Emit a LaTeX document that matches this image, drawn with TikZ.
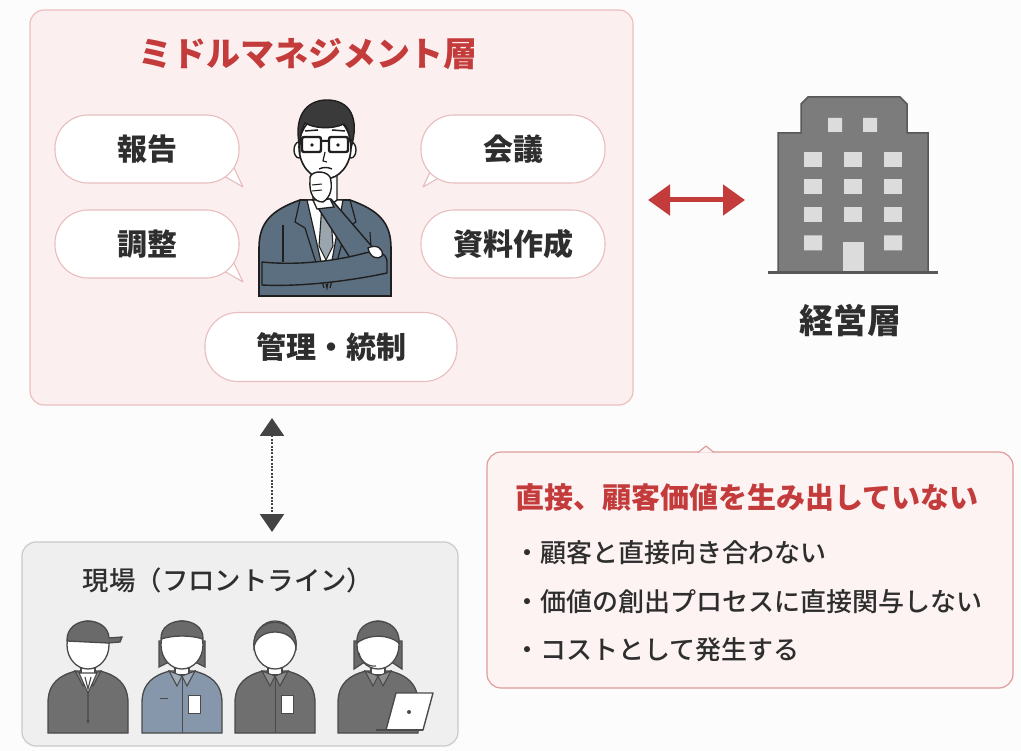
\documentclass[tikz,border=0pt]{standalone}
\usepackage{fontspec}
\setmainfont{Noto Sans CJK JP}
\newfontfamily\mediumfont{Noto Sans CJK JP Medium}
\usetikzlibrary{arrows.meta}

\definecolor{bgc}{HTML}{FCFCFC}
\definecolor{mgmtfill}{HTML}{FCEFEF}
\definecolor{mgmtline}{HTML}{EDBFBF}
\definecolor{bubline}{HTML}{E8BDBD}
\definecolor{accent}{HTML}{C43B3B}
\definecolor{txt}{HTML}{2E2E2E}
\definecolor{ink}{HTML}{1F1F1F}
\definecolor{suit}{HTML}{5C6F80}
\definecolor{tiec}{HTML}{9AA5AE}
\definecolor{hairc}{HTML}{3A3A3A}
\definecolor{bldg}{HTML}{7C7C7C}
\definecolor{bldgline}{HTML}{585858}
\definecolor{winc}{HTML}{DCDCDC}
\definecolor{critfill}{HTML}{FDF3F3}
\definecolor{critline}{HTML}{E09C9C}
\definecolor{frontfill}{HTML}{EFEFEF}
\definecolor{frontline}{HTML}{C9C9C9}
\definecolor{wink}{HTML}{4A4A4A}
\definecolor{wbody}{HTML}{6F6F6F}
\definecolor{wblue}{HTML}{8797AB}
\definecolor{whair}{HTML}{6A6A6A}
\definecolor{arrowgray}{HTML}{444444}

\newcommand\setfs[1]{\fontsize{#1pt}{#1pt}\selectfont}

% one frontline worker, bottom centre at (#1,733); #2 body colour
\newcommand\workerbody[2]{%
  \begin{scope}[shift={(#1,733)}]
    \filldraw[fill=#2, draw=wink, line width=1.3pt]
      (-40,0) -- (-40,-30) .. controls (-40,-50) and (-28,-58) .. (-12,-62)
      -- (12,-62) .. controls (28,-58) and (40,-50) .. (40,-30) -- (40,0) -- cycle;
    \filldraw[fill=white, draw=wink, line width=1.1pt] (-7,-72) rectangle (7,-58);
    \filldraw[fill=#2!80!white, draw=wink, line width=1.1pt] (-13,-62) -- (0,-57) -- (-5,-47) -- cycle;
    \filldraw[fill=#2!80!white, draw=wink, line width=1.1pt] (13,-62) -- (0,-57) -- (5,-47) -- cycle;
  \end{scope}}
\newcommand\workerhead[1]{%
  \begin{scope}[shift={(#1,733)}]
    \filldraw[fill=white, draw=wink, line width=1.3pt] (0,-88) ellipse [x radius=21, y radius=24];
  \end{scope}}

\begin{document}
\begin{tikzpicture}[x=1pt, y=-1pt,
  panel/.style={rectangle, rounded corners=14pt, line width=1.2pt},
  bubble/.style={rectangle, rounded corners=33pt, draw=bubline, fill=white,
    line width=1.1pt, minimum width=184pt, minimum height=68pt,
    text=txt, font=\setfs{30}\bfseries},
  bubtail/.style={fill=white, draw=bubline, line width=1.1pt, line join=round},
  redarrow/.style={draw=accent, line width=5pt,
    {Triangle[length=22pt, width=30pt]}-{Triangle[length=22pt, width=30pt]}},
  dotarrow/.style={draw=arrowgray, line width=2.6pt, dash pattern=on 2pt off 1.4pt,
    {Triangle[length=18pt, width=24pt]}-{Triangle[length=18pt, width=24pt]}},
  bullet/.style={anchor=west, text=txt, font=\setfs{26}\mediumfont}]

\useasboundingbox (0,0) rectangle (1021,751);
\fill[bgc] (0,0) rectangle (1021,751);

% ---------- middle management panel ----------
\node[panel, draw=mgmtline, fill=mgmtfill, minimum width=603pt, minimum height=395pt]
  (mgmt) at (331.5,207.5) {};
\node[text=accent, font=\setfs{34}\bfseries] (mgmttitle) at (308,54) {ミドルマネジメント層};

% bubble tails
\path[bubtail] (224,176) -- (243,187) -- (234,168);
\path[bubtail] (442,176) -- (423,187) -- (432,168);
\path[bubtail] (224,271) -- (243,282) -- (234,263);

\node[bubble] (rep) at (147,149) {報告};
\node[bubble] (adj) at (147,244) {調整};
\node[bubble] (mtg) at (513,149) {会議};
\node[bubble] (doc) at (513,244) {資料作成};
\node[bubble, minimum width=252pt, minimum height=69pt] (ctl) at (331,347) {管理・統制};

% ---------- manager figure ----------
\filldraw[fill=suit, draw=ink, line width=1.6pt]
  (259,296) -- (259,248) .. controls (259,222) and (272,210) .. (300,200)
  -- (350,200) .. controls (378,210) and (391,222) .. (391,248) -- (391,296) -- cycle;
\filldraw[fill=white, draw=ink, line width=1.2pt] (307,200) -- (343,200) -- (327,288) -- cycle;
\filldraw[fill=tiec, draw=ink, line width=1.1pt]
  (322,204) -- (330,204) -- (333,246) -- (326,260) -- (319,246) -- cycle;
\draw[ink, line width=1.2pt, line join=round] (300,200) -- (295,222) -- (305,228) -- (324,288);
\draw[ink, line width=1.2pt, line join=round] (350,200) -- (356,222) -- (346,228) -- (330,288);
\draw[ink, line width=1.1pt] (283,225) -- (283,262);
\draw[ink, line width=1.1pt] (370,232) -- (372,262);
% neck and head
\filldraw[fill=white, draw=ink, line width=1.4pt]
  (313,168) -- (313,200) .. controls (320,207) and (330,207) .. (337,200) -- (337,168) -- cycle;
\filldraw[fill=white, draw=ink, line width=1.4pt] (299,150) ellipse [x radius=5, y radius=8];
\filldraw[fill=white, draw=ink, line width=1.4pt] (351,150) ellipse [x radius=5, y radius=8];
\filldraw[fill=white, draw=ink, line width=1.6pt] (325,147) ellipse [x radius=26, y radius=32];
\filldraw[fill=hairc, draw=ink, line width=1.4pt]
  (300,148) .. controls (293,118) and (305,100) .. (327,100)
  .. controls (350,100) and (360,118) .. (351,148)
  .. controls (350,136) and (348,128) .. (344,124)
  .. controls (331,130) and (313,128) .. (305,123)
  .. controls (301,130) and (300,138) .. (300,148) -- cycle;
\draw[ink, line width=2.4pt, rounded corners=2pt] (302,137) rectangle (321,152);
\draw[ink, line width=2.4pt, rounded corners=2pt] (329,137) rectangle (348,152);
\draw[ink, line width=2pt] (321,141) -- (329,141) (302,141) -- (298,140) (348,141) -- (352,140);
\fill[ink] (312,145) circle (1.8) (338,145) circle (1.8);
\draw[ink, line width=1.5pt] (305,131) -- (318,130) (332,130) -- (345,131);
\draw[ink, line width=1.2pt, line join=round] (325,152) -- (323,161) -- (327,162);
\draw[ink, line width=1.4pt] (319,169) .. controls (323,167) and (328,167) .. (332,169);
% arms
\filldraw[fill=suit, draw=ink, line width=1.4pt, line join=round]
  (313,200) -- (331,199) -- (374,249) -- (354,264) -- cycle;
\filldraw[fill=suit, draw=ink, line width=1.4pt, line join=round]
  (262,262) .. controls (300,266) and (340,260) .. (365,253)
  .. controls (378,250) and (386,253) .. (387,261)
  -- (387,273) .. controls (350,281) and (300,287) .. (262,285) -- cycle;
\filldraw[fill=white, draw=ink, line width=1.3pt]
  (368,248) .. controls (376,244) and (384,248) .. (382,256) .. controls (378,260) and (370,258) .. (368,248) -- cycle;
\filldraw[fill=white, draw=ink, line width=1.3pt]
  (313,200) -- (330,199) -- (334,207) -- (317,209) -- cycle;
\filldraw[fill=white, draw=ink, line width=1.4pt]
  (310,180) .. controls (308,171) and (325,169) .. (330,177)
  .. controls (333,187) and (331,197) .. (323,202)
  .. controls (314,202) and (309,194) .. (310,180) -- cycle;
\draw[ink, line width=1pt] (312,185) -- (322,184) (312,191) -- (322,190);

% ---------- executive layer ----------
\filldraw[fill=bldg, draw=bldgline, line width=1.5pt]
  (778,272) -- (778,133) -- (801,133) -- (801,104) -- (808,97) -- (900,97)
  -- (907,104) -- (907,133) -- (928,133) -- (928,272) -- cycle;
\draw[bldgline, line width=3pt] (768,273) -- (938,273);
\fill[winc] (828,118) rectangle (842,132) (863,118) rectangle (877,132);
\foreach \cx in {813,853,893}
  \foreach \cy in {160,187,215}
    \fill[winc] (\cx-9,\cy-7.5) rectangle (\cx+9,\cy+7.5);
\fill[winc] (804,235.5) rectangle (822,250.5) (884,235.5) rectangle (902,250.5);
\fill[winc] (843,242) rectangle (864,271);
\node[text=txt, font=\setfs{34}\bfseries] (exec) at (850,321) {経営層};

\coordinate (redL) at (648,200);
\coordinate (redR) at (745,200);
\draw[redarrow] (redL) -- (redR);

% ---------- frontline ----------
\node[panel, draw=frontline, fill=frontfill, minimum width=436pt, minimum height=204pt]
  (front) at (240,644) {};
\node[text=txt, font=\setfs{26.4}\mediumfont] (fronttitle) at (228,580) {現場（フロントライン）};

\coordinate (dotT) at (272,418);
\coordinate (dotB) at (272,532);
\draw[dotarrow] (dotT) -- (dotB);

% worker 1: cap and suit
\workerbody{88}{wbody}
\begin{scope}[shift={(88,733)}]
  \filldraw[fill=white, draw=wink, line width=1.1pt] (-9,-60) -- (9,-60) -- (0,-40) -- cycle;
  \draw[wink, line width=1.1pt] (0,-40) -- (0,-10) (-3,-56) -- (0,-44) -- (3,-56);
  \fill[wink] (0,-12) circle (1.5);
\end{scope}
\workerhead{88}
\begin{scope}[shift={(88,733)}]
  \filldraw[fill=whair, draw=wink, line width=1.3pt]
    (-21,-92) .. controls (-22,-118) and (20,-118) .. (21,-95) -- (34,-96) -- (32,-91) -- (20,-90) -- cycle;
\end{scope}

% worker 2: cap, blue uniform, badge
\begin{scope}[shift={(182,733)}]
  \filldraw[fill=whair, draw=wink, line width=1.3pt]
    (-23,-66) -- (-23,-92) -- (23,-92) -- (23,-66) -- (15,-70) -- (-15,-70) -- cycle;
\end{scope}
\workerbody{182}{wblue}
\workerhead{182}
\begin{scope}[shift={(182,733)}]
  \filldraw[fill=whair, draw=wink, line width=1.3pt]
    (-21,-94) .. controls (-22,-118) and (22,-118) .. (21,-94) .. controls (8,-98) and (-8,-98) .. (-21,-94) -- cycle;
  \filldraw[fill=white, draw=wink, line width=1pt] (6,-38) rectangle (18,-20);
  \draw[wink, line width=1pt] (0,-57) -- (0,0) (-22,-35) -- (-14,-35);
\end{scope}

% worker 3: short hair, badge
\workerbody{275}{wbody}
\workerhead{275}
\begin{scope}[shift={(275,733)}]
  \filldraw[fill=whair, draw=wink, line width=1.3pt]
    (-21,-86) .. controls (-24,-119) and (24,-119) .. (21,-86)
    .. controls (19,-96) and (10,-101) .. (0,-101) .. controls (-10,-101) and (-19,-96) .. (-21,-86) -- cycle;
  \filldraw[fill=white, draw=wink, line width=1pt] (6,-38) rectangle (18,-20);
  \draw[wink, line width=1pt] (0,-57) -- (0,0);
\end{scope}

% worker 4: headset and laptop
\begin{scope}[shift={(378,733)}]
  \filldraw[fill=whair, draw=wink, line width=1.3pt]
    (-24,-64) -- (-24,-92) -- (24,-92) -- (24,-64) -- (15,-70) -- (-15,-70) -- cycle;
\end{scope}
\workerbody{378}{wbody}
\workerhead{378}
\begin{scope}[shift={(378,733)}]
  \filldraw[fill=whair, draw=wink, line width=1.3pt]
    (-21,-90) .. controls (-23,-119) and (23,-119) .. (21,-90)
    .. controls (12,-98) and (-8,-100) .. (-21,-90) -- cycle;
  \draw[wink, line width=1.2pt] (-19,-80) .. controls (-17,-70) and (-8,-66) .. (-2,-67);
  \filldraw[fill=white, draw=wink, line width=1.4pt, line join=round]
    (8,-3) -- (18,-40) -- (55,-40) -- (45,-3) -- cycle;
  \draw[wink, line width=1.6pt] (-2,-3) -- (45,-3);
  \fill[wink] (31,-21) circle (2);
\end{scope}

% ---------- value statement ----------
\node[panel, draw=critline, fill=critfill, minimum width=526pt, minimum height=236pt]
  (crit) at (750,570) {};
\path[fill=critfill, draw=critline, line width=1.2pt, line join=round]
  (698,452.6) -- (706,446) -- (714,452.6);
\node[anchor=west, text=accent, font=\setfs{29}\bfseries] (crittitle) at (512,497)
  {直接、顧客価値を生み出していない};
\node[bullet] (b1) at (511,553) {・顧客と直接向き合わない};
\node[bullet] (b2) at (511,602) {・価値の創出プロセスに直接関与しない};
\node[bullet] (b3) at (511,650) {・コストとして発生する};

\end{tikzpicture}
\end{document}
